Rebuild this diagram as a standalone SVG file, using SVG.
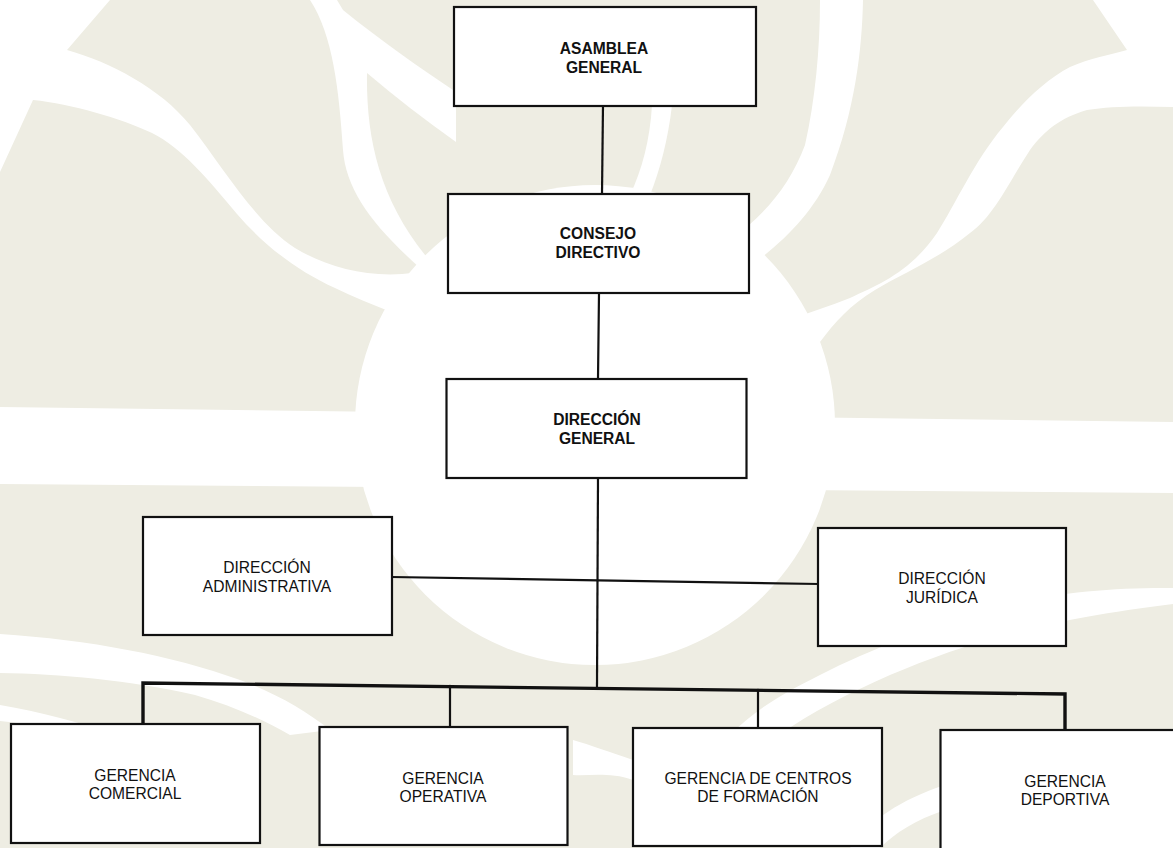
<svg xmlns="http://www.w3.org/2000/svg" width="1173" height="848" viewBox="0 0 1173 848">
  <style>
    .bg { fill: #eeede3; }
    .wh { fill: #ffffff; }
    .box { fill: #ffffff; stroke: #111111; stroke-width: 2.2; }
    .lbl { font-family: "Liberation Sans", Arial, sans-serif; font-size: 15.6px; fill: #111111; text-anchor: middle; }
    .bold { font-weight: bold; }
    .conn { stroke: #111111; stroke-width: 2.2; fill: none; stroke-linecap: square; }
    .bus { stroke: #111111; stroke-width: 3.4; fill: none; }
  </style>

  <!-- background watermark -->
  <g id="background">
    <rect class="bg" x="0" y="0" width="1173" height="848"/>
    <!-- top-left white corner and wavy band -->
    <path class="wh" d="M0,0 L110,0 L67,50 C110,62 160,88 190,125 C225,170 255,222 295,248 C335,272 385,282 440,268 L450,330 C410,320 370,305 335,288 C295,270 262,243 237,214 C207,178 182,148 152,133 C120,118 72,104 33,100 L0,172 Z"/>
    <!-- upper-left Y stripe -->
    <path class="wh" d="M310,0 L337,0 L343,10 C380,40 420,68 456,92 L456,142 C425,120 395,97 367,73 C366,140 380,205 436,268 L420,268 C372,225 346,190 343,150 C339,90 333,35 310,0 Z"/>
    <!-- upper-right stripe -->
    <path class="wh" d="M820,0 L863,0 C862,50 855,110 830,175 C812,215 780,245 745,270 L730,240 C765,215 790,185 805,145 C815,100 820,50 820,0 Z"/>
    <!-- top-right white corner and wavy band -->
    <path class="wh" d="M1093,0 L1173,0 L1173,107 C1140,106 1110,106 1087,110 C1060,118 1045,130 1030,150 C1010,180 995,215 970,233 C940,258 905,272 875,290 C850,305 835,322 820,342 L790,320 C810,312 830,306 850,298 C880,284 910,272 937,233 C955,205 975,160 1003,127 C1020,105 1045,80 1070,67 C1090,58 1110,55 1127,50 Z"/>
    <!-- central big white circle -->
    <circle class="wh" cx="595" cy="425" r="240"/>
    <!-- vein between top boxes -->
    <path class="wh" d="M652,105 L672,105 C668,140 660,170 650,195 L630,195 C642,170 650,140 652,105 Z"/>
    <!-- horizontal white band -->
    <path class="wh" d="M0,407 L1173,422 L1173,493 L0,484 Z"/>
    <!-- lower swooshes -->
    <path class="wh" d="M0,634 C90,640 170,655 240,680 C275,693 305,710 330,730 L290,735 C260,718 230,705 195,695 C130,680 60,674 0,673 Z"/>
    <path class="wh" d="M1173,588 C1120,588 1070,590 1010,605 C950,620 880,645 830,670 C790,690 760,705 730,735 L780,735 C810,712 850,693 890,675 C960,645 1040,620 1173,604 Z"/>
    <path class="wh" d="M0,705 C40,712 80,722 120,736 L100,740 C65,730 30,724 0,721 Z"/>
    <path class="wh" d="M850,848 C870,820 900,800 945,785 L945,810 C915,820 895,833 880,848 Z"/>
    <path class="wh" d="M573,740 C590,745 610,752 633,760 L633,780 C610,772 590,776 573,775 Z"/>
  </g>

  <!-- connectors -->
  <g id="connectors">
    <line class="conn" x1="603" y1="105" x2="602" y2="194"/>
    <line class="conn" x1="599" y1="293" x2="598" y2="379"/>
    <line class="conn" x1="598" y1="479" x2="597" y2="686"/>
    <line class="conn" x1="392" y1="577" x2="818" y2="584"/>
    <polyline class="bus" points="143,724 143,683 1065,694 1065,730"/>
    <line class="conn" x1="450" y1="686" x2="450" y2="727"/>
    <line class="conn" x1="758" y1="690" x2="758" y2="728"/>
  </g>

  <!-- nodes -->
  <g id="asamblea-general">
    <rect class="box" x="454" y="7" width="302" height="99"/>
    <text class="lbl bold" x="604" y="54">ASAMBLEA</text>
    <text class="lbl bold" x="604" y="73">GENERAL</text>
  </g>
  <g id="consejo-directivo">
    <rect class="box" x="448" y="194" width="301" height="99"/>
    <text class="lbl bold" x="598" y="239">CONSEJO</text>
    <text class="lbl bold" x="598" y="258">DIRECTIVO</text>
  </g>
  <g id="direccion-general">
    <rect class="box" x="446.5" y="379" width="300" height="99"/>
    <text class="lbl bold" x="597" y="425">DIRECCIÓN</text>
    <text class="lbl bold" x="597" y="444">GENERAL</text>
  </g>
  <g id="direccion-administrativa">
    <rect class="box" x="143" y="517" width="249" height="118"/>
    <text class="lbl" x="267" y="573">DIRECCIÓN</text>
    <text class="lbl" x="267" y="591.5">ADMINISTRATIVA</text>
  </g>
  <g id="direccion-juridica">
    <rect class="box" x="818" y="528" width="248" height="118"/>
    <text class="lbl" x="942" y="584">DIRECCIÓN</text>
    <text class="lbl" x="942" y="603">JURÍDICA</text>
  </g>
  <g id="gerencia-comercial">
    <rect class="box" x="11" y="724" width="249" height="119"/>
    <text class="lbl" x="135" y="780.5">GERENCIA</text>
    <text class="lbl" x="135" y="799">COMERCIAL</text>
  </g>
  <g id="gerencia-operativa">
    <rect class="box" x="319.5" y="727" width="248" height="118"/>
    <text class="lbl" x="443" y="784">GERENCIA</text>
    <text class="lbl" x="443" y="802">OPERATIVA</text>
  </g>
  <g id="gerencia-centros-formacion">
    <rect class="box" x="633" y="728" width="249" height="118"/>
    <text class="lbl" x="758" y="784">GERENCIA DE CENTROS</text>
    <text class="lbl" x="758" y="802">DE FORMACIÓN</text>
  </g>
  <g id="gerencia-deportiva">
    <rect class="box" x="940.5" y="730" width="240" height="125"/>
    <text class="lbl" x="1065" y="786.5">GERENCIA</text>
    <text class="lbl" x="1065" y="805">DEPORTIVA</text>
  </g>
</svg>
